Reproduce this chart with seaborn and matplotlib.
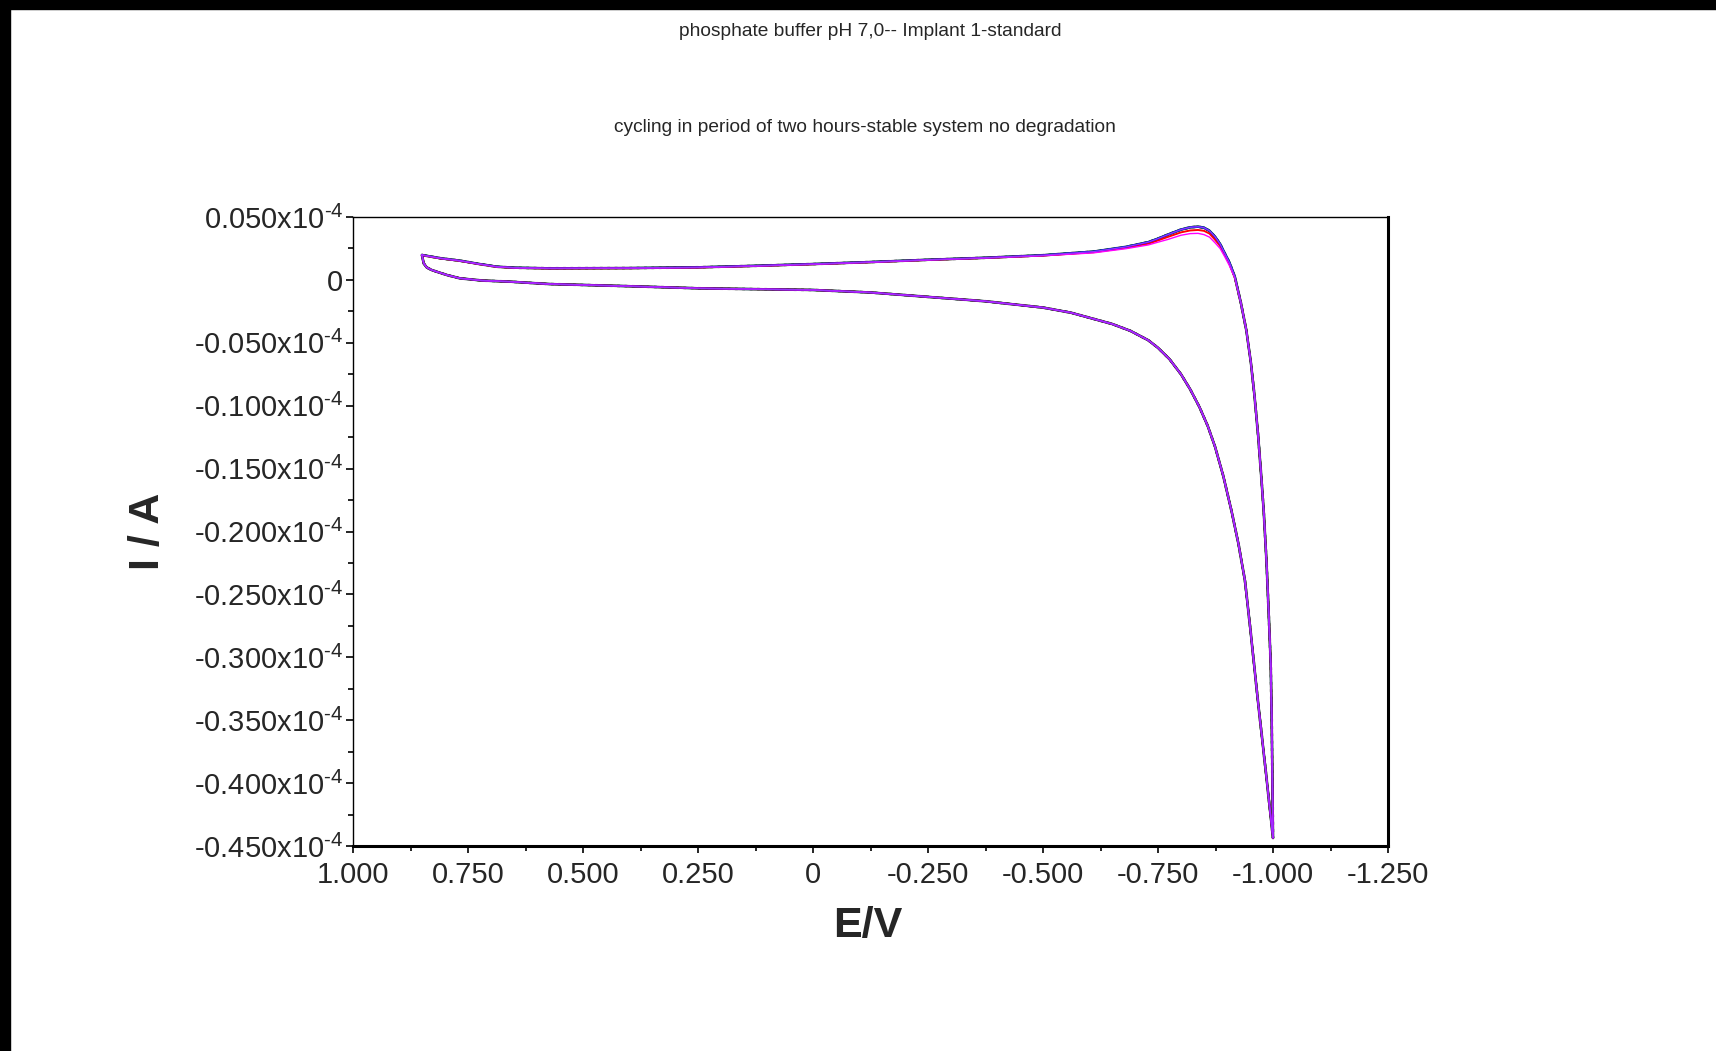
import matplotlib
matplotlib.use('Agg')
import matplotlib.pyplot as plt
import matplotlib.patches as mpatches
from matplotlib.ticker import FixedLocator, FuncFormatter
import pandas as pd
import seaborn as sns

# ---------------------------------------------------------
# data (current in units of 1e-4 A, potential in V)
# ---------------------------------------------------------
# cathodic scan 0.85 V -> -1.0 V (all cycles overlap)
E_fwd = [0.850, 0.848, 0.846, 0.840, 0.830, 0.818, 0.795, 0.768, 0.720, 0.659,
         0.573, 0.400, 0.247, 0.000, -0.125, -0.250, -0.375, -0.500, -0.560,
         -0.610, -0.650, -0.690, -0.729, -0.750, -0.775, -0.800, -0.820, -0.840,
         -0.858, -0.874, -0.892, -0.910, -0.925, -0.939, -0.950, -0.967, -0.985,
         -1.000]
I_fwd = [0.0198, 0.0160, 0.0130, 0.0100, 0.0080, 0.0065, 0.0038, 0.0013, -0.0005,
         -0.0014, -0.0033, -0.0050, -0.0067, -0.0080, -0.0100, -0.0135, -0.0170,
         -0.0220, -0.0260, -0.0310, -0.0350, -0.0405, -0.0480, -0.0540, -0.0630,
         -0.0750, -0.0870, -0.1010, -0.1160, -0.1326, -0.1560, -0.1840, -0.2100,
         -0.2390, -0.2750, -0.3340, -0.3930, -0.4436]

# anodic (return) scan -1.0 V -> 0.85 V
E_rev = [-1.000, -0.9985, -0.997, -0.995, -0.991, -0.986, -0.980, -0.975, -0.968,
         -0.960, -0.952, -0.942, -0.930, -0.917, -0.905, -0.895, -0.885, -0.874,
         -0.862, -0.850, -0.837, -0.820, -0.800, -0.770, -0.750, -0.729, -0.680,
         -0.610, -0.500, -0.375, -0.250, -0.125, 0.000, 0.125, 0.250, 0.400, 0.573,
         0.650, 0.688, 0.710, 0.725, 0.768, 0.810, 0.850]
I_rev_main = [-0.4436, -0.390, -0.345, -0.305, -0.268, -0.225, -0.185, -0.159,
              -0.125, -0.093, -0.066, -0.040, -0.018, 0.0025, 0.0140, 0.0211,
              0.0285, 0.0343, 0.0390, 0.0415, 0.0423, 0.0418, 0.0400, 0.0358,
              0.0328, 0.0300, 0.0262, 0.0225, 0.0196, 0.0176, 0.0160, 0.0142,
              0.0126, 0.0112, 0.0100, 0.0094, 0.0092, 0.0097, 0.0105, 0.0118,
              0.0126, 0.0153, 0.0172, 0.0198]
I_rev_red = [-0.4436, -0.390, -0.345, -0.305, -0.268, -0.225, -0.185, -0.159,
             -0.125, -0.093, -0.066, -0.040, -0.018, 0.0020, 0.0130, 0.0200,
             0.0270, 0.0320, 0.0368, 0.0390, 0.0397, 0.0393, 0.0378, 0.0340,
             0.0314, 0.0288, 0.0255, 0.0220, 0.0194, 0.0175, 0.0159, 0.0141,
             0.0125, 0.0111, 0.0099, 0.0093, 0.0091, 0.0096, 0.0104, 0.0117,
             0.0125, 0.0152, 0.0171, 0.0197]
I_rev_mag = [-0.4436, -0.390, -0.345, -0.305, -0.268, -0.225, -0.185, -0.159,
             -0.125, -0.093, -0.066, -0.040, -0.018, 0.0015, 0.0115, 0.0185,
             0.0250, 0.0295, 0.0340, 0.0360, 0.0370, 0.0368, 0.0355, 0.0320,
             0.0300, 0.0278, 0.0248, 0.0215, 0.0192, 0.0174, 0.0158, 0.0140,
             0.0124, 0.0110, 0.0098, 0.0093, 0.0091, 0.0096, 0.0104, 0.0117,
             0.0125, 0.0152, 0.0171, 0.0197]

cycles = ['c1', 'c2', 'c3', 'c4', 'c5', 'c6', 'c7']
cycle_colors = ['#909090', 'black', '#008080', 'red', 'blue', 'magenta', '#9933ff']
cycle_widths = [2.0, 1.8, 1.6, 1.4, 1.2, 1.0, 0.9]
cycle_rev = [I_rev_main, I_rev_main, I_rev_main, I_rev_red, I_rev_main, I_rev_mag, I_rev_main]

y_ticks = [0.05, 0.0, -0.05, -0.10, -0.15, -0.20, -0.25, -0.30, -0.35, -0.40, -0.45]
x_ticks = [1.0, 0.75, 0.5, 0.25, 0.0, -0.25, -0.5, -0.75, -1.0, -1.25]

title1 = "phosphate buffer pH 7,0-- Implant 1-standard"
title2 = "cycling in period of two hours-stable system no degradation"

# ---------------------------------------------------------
sns.set_style("white")
plt.rcParams['font.family'] = ['Liberation Sans', 'DejaVu Sans']
plt.rcParams['mathtext.fontset'] = 'custom'
plt.rcParams['mathtext.rm'] = 'Liberation Sans'

fig = plt.figure(figsize=(17.16, 10.51), dpi=100)
ax = fig.add_axes([353 / 1716, 1 - 846 / 1051, 1035 / 1716, 629 / 1051])

for name, col, lw, irev in zip(cycles, cycle_colors, cycle_widths, cycle_rev):
    df = pd.DataFrame({'E': E_fwd + E_rev, 'I': I_fwd + irev})
    ls = ':' if name == 'c1' else '-'
    sns.lineplot(data=df, x='E', y='I', sort=False, estimator=None, ax=ax,
                 color=col, lw=lw, linestyle=ls, legend=False)

ax.set_xlim(1.0, -1.25)
ax.set_ylim(-0.45, 0.05)

ax.yaxis.set_major_locator(FixedLocator(y_ticks))
ax.yaxis.set_minor_locator(FixedLocator([v - 0.025 for v in y_ticks[:-1]]))
ax.xaxis.set_major_locator(FixedLocator(x_ticks))
ax.xaxis.set_minor_locator(FixedLocator([v - 0.125 for v in x_ticks[:-1]]))


def yfmt(v, pos):
    if abs(v) < 1e-9:
        return '0'
    return '%.3fx10$^{\\text{-4}}$' % v


def xfmt(v, pos):
    if abs(v) < 1e-9:
        return '0'
    return '%.3f' % v


ax.yaxis.set_major_formatter(FuncFormatter(yfmt))
ax.xaxis.set_major_formatter(FuncFormatter(xfmt))
ax.tick_params(axis='both', which='major', direction='out', length=5, width=1.2,
               labelsize=21, color='black', left=True, bottom=True)
ax.tick_params(axis='y', which='major', pad=2)
ax.tick_params(axis='x', which='major', pad=6)
ax.tick_params(axis='both', which='minor', direction='out', length=3.5, width=1.2,
               color='black', left=True, bottom=True)

for side in ['top', 'left']:
    ax.spines[side].set_linewidth(1.0)
    ax.spines[side].set_color('black')
for side in ['bottom', 'right']:
    ax.spines[side].set_linewidth(2.2)
    ax.spines[side].set_color('black')

ax.set_xlabel('E/V', fontsize=31, fontweight='bold')
ax.set_ylabel('I / A', fontsize=31, fontweight='bold')
ax.xaxis.set_label_coords((868 - 353) / 1035, -(906 - 846) / 629)
ax.yaxis.set_label_coords(-(353 - 168) / 1035, 0.5)

fig.text(870 / 1716, 1 - 31 / 1051, title1, ha='center', va='center', fontsize=13.8)
fig.text(865 / 1716, 1 - 128 / 1051, title2, ha='center', va='center', fontsize=13.8)

# black frame on top and left edge
fig.patches.append(mpatches.Rectangle((0, 1 - 9 / 1051), 1, 9 / 1051,
                                      transform=fig.transFigure, color='black', zorder=10))
fig.patches.append(mpatches.Rectangle((0, 0), 10 / 1716, 1,
                                      transform=fig.transFigure, color='black', zorder=10))

fig.savefig('out.png', dpi=100)
plt.close(fig)
